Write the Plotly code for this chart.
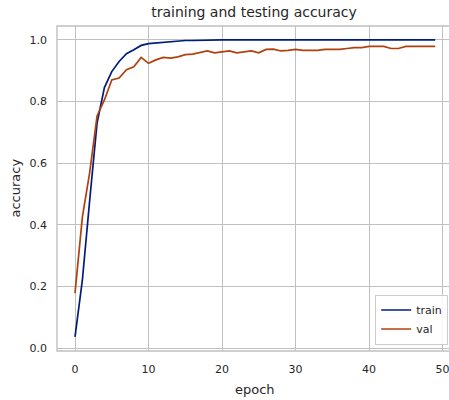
import plotly.graph_objects as go

epochs = list(range(50))
train_acc = [0.036, 0.22, 0.48, 0.73, 0.845, 0.897, 0.93, 0.955, 0.968, 0.982,
             0.988, 0.99, 0.994, 0.995, 0.997, 0.998, 0.998, 0.999, 0.999, 0.999,
             1.0, 1.0, 1.0, 1.0, 1.0, 1.0, 1.0, 1.0, 1.0, 1.0,
             1.0, 1.0, 1.0, 1.0, 1.0, 1.0, 1.0, 1.0, 1.0, 1.0,
             1.0, 1.0, 1.0, 1.0, 1.0, 1.0, 1.0, 1.0, 1.0, 1.0]
val_acc = [0.178, 0.425, 0.57, 0.753, 0.805, 0.87, 0.876, 0.903, 0.913, 0.943,
           0.924, 0.935, 0.943, 0.941, 0.945, 0.952, 0.954, 0.958, 0.964, 0.958,
           0.96, 0.964, 0.958, 0.96, 0.964, 0.958, 0.969, 0.97, 0.964, 0.966,
           0.969, 0.966, 0.966, 0.966, 0.969, 0.969, 0.969, 0.972, 0.975, 0.975,
           0.979, 0.979, 0.979, 0.972, 0.972, 0.979, 0.979, 0.979, 0.979, 0.979]
x_ticks = [0, 10, 20, 30, 40, 50]
y_ticks = [0.0, 0.2, 0.4, 0.6, 0.8, 1.0]
y_tick_text = ["0.0", "0.2", "0.4", "0.6", "0.8", "1.0"]

FONT = "DejaVu Sans"
TXT = "#262626"
GRID = "#c0c0c0"

fig = go.Figure()
fig.add_trace(go.Scatter(x=epochs, y=train_acc, mode="lines", name="train",
                         line=dict(color="#001c7f", width=1.7)))
fig.add_trace(go.Scatter(x=epochs, y=val_acc, mode="lines", name="val",
                         line=dict(color="#b1400d", width=1.7)))

fig.update_layout(
    width=449, height=400,
    margin=dict(l=57, r=0, t=26, b=49, autoexpand=False),
    paper_bgcolor="white", plot_bgcolor="white",
    font=dict(family=FONT, color=TXT, size=11),
    title=dict(text="training and testing accuracy", x=254/449, xref="container",
               xanchor="center", y=1-12/400, yanchor="middle",
               font=dict(size=14, family=FONT, color=TXT)),
    xaxis=dict(range=[-2.45, 50.88], tickvals=x_ticks, showgrid=True, gridcolor=GRID,
               gridwidth=1.4, zeroline=False, showline=False, ticks="", automargin=False,
               ticklabelstandoff=10, tickfont=dict(size=11), ticklabeloverflow="allow"),
    yaxis=dict(range=[-0.0097, 1.045], tickvals=y_ticks, ticktext=y_tick_text,
               showgrid=True, gridcolor=GRID, gridwidth=1.4, zeroline=False, automargin=False,
               showline=False, ticks="", ticklabelstandoff=9, tickfont=dict(size=11),
               ticklabeloverflow="allow"),
    legend=dict(x=0.998, xanchor="right", y=0.02, yanchor="bottom",
                bgcolor="rgba(255,255,255,0.85)", bordercolor="#cccccc", borderwidth=1,
                font=dict(size=11, family=FONT, color=TXT), itemwidth=30,
                tracegroupgap=2),
    shapes=[dict(type="rect", xref="paper", yref="paper", x0=0, x1=1.05, y0=0, y1=1,
                 line=dict(color=GRID, width=1.4), layer="above")],
    annotations=[
        dict(text="epoch", xref="paper", yref="paper", x=(255-57)/392, y=-(389-351)/325,
             xanchor="center", yanchor="middle", showarrow=False,
             font=dict(size=13, family=FONT, color=TXT)),
        dict(text="accuracy", xref="paper", yref="paper", x=-(57-15)/392, y=0.5,
             xanchor="center", yanchor="middle", showarrow=False, textangle=-90,
             font=dict(size=13, family=FONT, color=TXT)),
    ],
    showlegend=True,
)

fig.write_html("out.html", config={"displayModeBar": False},
               post_script="document.body.style.margin='0';document.body.style.overflow='hidden';")
